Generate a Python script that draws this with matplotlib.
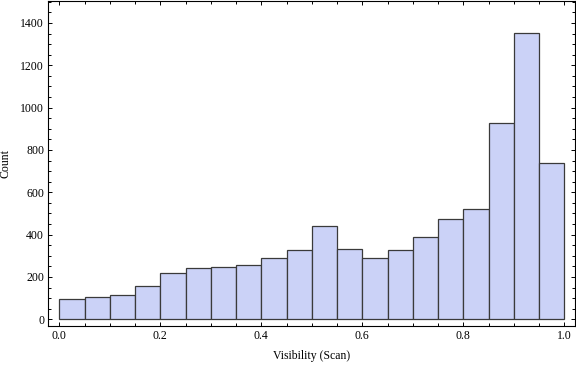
import numpy as np
import matplotlib.pyplot as plt
from matplotlib.ticker import MultipleLocator

# Histogram counts, 20 bins of width 0.05 on [0, 1]
bin_edges = [0.00, 0.05, 0.10, 0.15, 0.20, 0.25, 0.30, 0.35, 0.40, 0.45,
             0.50, 0.55, 0.60, 0.65, 0.70, 0.75, 0.80, 0.85, 0.90, 0.95, 1.00]
counts = [95, 104, 113, 156, 217, 241, 246, 255, 288, 326,
          439, 331, 288, 326, 387, 472, 520, 926, 1351, 740]
x_ticks = [0.0, 0.2, 0.4, 0.6, 0.8, 1.0]
y_ticks = [0, 200, 400, 600, 800, 1000, 1200, 1400]

plt.rcParams['font.family'] = ['Liberation Serif', 'DejaVu Serif']

fig = plt.figure(figsize=(5.76, 3.66), dpi=100)
ax = fig.add_axes([48.3 / 576, 40 / 366, 527 / 576, 325.5 / 366])

left = np.array(bin_edges[:-1])
widths = np.diff(bin_edges)
ax.bar(left, counts, width=widths, align='edge',
       color=(0.798, 0.825, 0.968), edgecolor='#3a3a3a', linewidth=0.9)

ax.set_xlim(-0.0218, 1.0218)
ax.set_ylim(-31.6, 1506)
ax.set_xticks(x_ticks)
ax.set_xticklabels([f'{t:.1f}' for t in x_ticks])
ax.set_yticks(y_ticks)
ax.xaxis.set_minor_locator(MultipleLocator(0.05))
ax.yaxis.set_minor_locator(MultipleLocator(50))

ax.tick_params(which='both', direction='in', top=True, right=True,
               labelsize=8.5, width=0.7, pad=3)
ax.tick_params(which='major', length=3.2)
ax.tick_params(which='minor', length=2)
for s in ax.spines.values():
    s.set_linewidth(0.8)

ax.set_xlabel('Visibility (Scan)', fontsize=8.5, labelpad=6)
ax.set_ylabel('Count', fontsize=8.5, labelpad=6)

fig.savefig('out.png', dpi=100)
